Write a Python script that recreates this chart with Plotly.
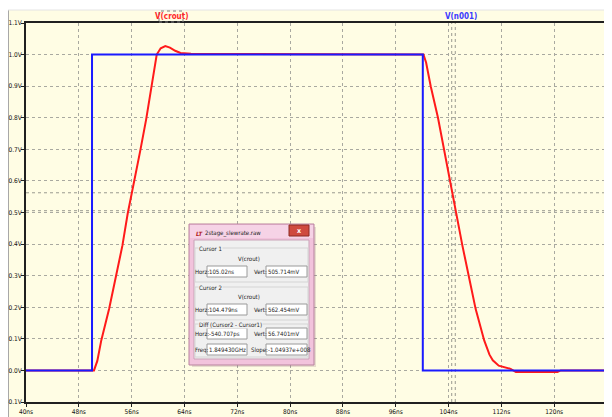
import plotly.graph_objects as go

# ---------------- data ----------------
t_blue = [40, 50.0, 50.0, 100.1, 100.1, 128]
v_blue = [0, 0, 1.0, 1.0, 0, 0]

t_red = [40, 50.3, 50.8, 51.4, 52.6, 53.6, 54.6, 55.4, 56.4, 57.3, 58.2, 59.0,
         59.8, 60.4, 61.1, 61.8, 62.6, 63.4, 65.0, 68.0, 74.0, 76.0, 100.2,
         100.6, 101.3, 102.4, 103.3, 104.2, 104.479, 105.02, 106.1, 107.1,
         108.1, 109.4, 110.2, 110.7, 111.6, 113.4, 114.2, 120.5, 121.0, 128]
v_red = [0, 0, 0.03, 0.095, 0.196, 0.295, 0.395, 0.496, 0.595, 0.695, 0.795, 0.895,
         1.0, 1.02, 1.027, 1.022, 1.012, 1.005, 1.003, 1.002, 1.002, 1.0, 1.0,
         0.975, 0.9, 0.8, 0.7, 0.6, 0.562454, 0.505714, 0.395, 0.295,
         0.195, 0.095, 0.05, 0.032, 0.015, 0.005, -0.005, -0.005, 0.0, 0.0]

x_ticks = [40, 48, 56, 64, 72, 80, 88, 96, 104, 112, 120, 128]
x_labels = ["40ns", "48ns", "56ns", "64ns", "72ns", "80ns", "88ns", "96ns",
            "104ns", "112ns", "120ns", "128ns"]
y_ticks = [-0.1, 0.0, 0.1, 0.2, 0.3, 0.4, 0.5, 0.6, 0.7, 0.8, 0.9, 1.0, 1.1]
y_labels = ["-0.1V", "0.0V", "0.1V", "0.2V", "0.3V", "0.4V", "0.5V", "0.6V",
            "0.7V", "0.8V", "0.9V", "1.0V", "1.1V"]

cursor_t = [104.479, 105.02]
cursor_v = [0.562454, 0.505714]

dlg_title = "2stage_slewrate.raw"
c1_label, c2_label, diff_label = "Cursor 1", "Cursor 2", "Diff (Cursor2 - Cursor1)"
trace_name = "V(crout)"
c1_horz, c1_vert = "105.02ns", "505.714mV"
c2_horz, c2_vert = "104.479ns", "562.454mV"
d_horz, d_vert = "-540.707ps", "56.7401mV"
d_freq, d_slope = "1.849430GHz", "-1.04937e+008"

# ---------------- geometry helpers (window pixel -> paper) ----------------
OX, OY = 8, 8                 # page body margin offset
W, H = 604, 409               # figure size (fills the rest of the window)
L, R, T, B = 18, 5, 15, 15
PW, PH = W - L - R, H - T - B


def px(x):
    return (x - OX - L) / PW


def py(y):
    return (H - B - (y - OY)) / PH


COND = "DejaVu Sans Condensed, Liberation Sans, sans-serif"
BG = "#fffde4"
fig = go.Figure()
fig.add_trace(go.Scatter(x=t_red, y=v_red, mode="lines", name="V(crout)",
                         line=dict(color="#ff1a1a", width=2), hoverinfo="skip"))
fig.add_trace(go.Scatter(x=t_blue, y=v_blue, mode="lines", name="V(n001)",
                         line=dict(color="#1a1aff", width=2), hoverinfo="skip"))

tickfont = dict(family=COND, size=6.5, color="#111111")
axis_common = dict(showgrid=True, gridcolor="#a9a9a0", griddash="dot", gridwidth=1,
                   showline=True, linecolor="#202020", linewidth=2, mirror=True,
                   ticks="outside", ticklen=3, tickcolor="#202020", tickwidth=1,
                   zeroline=False, tickfont=tickfont, fixedrange=True, automargin=False)

fig.update_layout(
    width=W, height=H,
    margin=dict(l=L, r=R, t=T, b=B, pad=0, autoexpand=False),
    paper_bgcolor=BG, plot_bgcolor=BG,
    showlegend=False,
    xaxis=dict(range=[40, 128], tickmode="array", tickvals=x_ticks, ticktext=x_labels,
               ticklabelstandoff=-1, **axis_common),
    yaxis=dict(range=[-0.1, 1.1], tickmode="array", tickvals=y_ticks, ticktext=y_labels,
               ticklabelstandoff=-2, **axis_common),
)

shapes = []
# white band at top of the window
shapes.append(dict(type="rect", xref="paper", yref="paper", x0=px(0), x1=px(W + 20),
                   y0=py(10), y1=py(0), fillcolor="white", line=dict(width=0), layer="below"))
shapes.append(dict(type="line", xref="paper", yref="paper", x0=px(7), x1=px(W + 20),
                   y0=py(10), y1=py(10), line=dict(color="#e4e4e4", width=1)))
shapes.append(dict(type="line", xref="paper", yref="paper", x0=px(8.5), x1=px(8.5),
                   y0=py(10), y1=py(H + 20), line=dict(color="#a8a8a8", width=1),
                   layer="below"))

# cursor lines
for tc in cursor_t:
    shapes.append(dict(type="line", xref="x", yref="paper", x0=tc, x1=tc, y0=0, y1=1,
                       line=dict(color="#9a9a90", width=1, dash="dot"), layer="below"))
for vc in cursor_v:
    shapes.append(dict(type="line", xref="paper", yref="y", x0=0, x1=1, y0=vc, y1=vc,
                       line=dict(color="#9a9a90", width=1, dash="dot"), layer="below"))

# dotted selection box around V(crout) label
shapes.append(dict(type="rect", xref="paper", yref="paper", x0=px(159), x1=px(183),
                   y0=py(22), y1=py(11), line=dict(color="#808080", width=1, dash="dot")))


def rect(x0, y0, x1, y1, fill, line="rgba(0,0,0,0)", lw=1):
    shapes.append(dict(type="rect", xref="paper", yref="paper", x0=px(x0), x1=px(x1),
                       y0=py(y1), y1=py(y0), fillcolor=fill, line=dict(color=line, width=lw)))


# dialog window
rect(192, 227, 316, 367, "rgba(120,80,100,0.18)")          # shadow
rect(189, 224, 314, 365, "#f2c3dc", "#b9829f")               # pink frame
rect(190, 225, 313, 238, "#f6d3e6")                          # title highlight
rect(194, 240, 309, 359, "#f0f0f0", "#c9a3b7")               # client area
rect(289, 225, 309, 236, "#cf4a3f", "#8c2a24")               # close button
# group boxes
rect(195, 248, 308, 282, "rgba(0,0,0,0)", "#d4d4d4")
rect(195, 287, 308, 320, "rgba(0,0,0,0)", "#d4d4d4")
rect(195, 324, 308, 357, "rgba(0,0,0,0)", "#d4d4d4")
# text boxes
for (yy0, yy1) in [(266, 277), (304, 315), (328, 339), (344, 355)]:
    rect(207, yy0, 247, yy1, "white", "#9a9a9a")
    rect(266, yy0, 307, yy1, "white", "#9a9a9a")

fig.update_layout(shapes=shapes)

ann = []
small = dict(family=COND, size=6, color="#222222")


def text(x, y, s, anchor="left", font=None, bg=None):
    d = dict(xref="paper", yref="paper", x=px(x), y=py(y), text=s, showarrow=False,
             xanchor=anchor, yanchor="middle", font=font or small, borderpad=0)
    if bg:
        d["bgcolor"] = bg
    ann.append(d)


lab = dict(family=COND, size=8, weight="bold")
text(171, 16, "V(crout)", "center", dict(lab, color="#ff2a2a"))
text(461, 16, "V(n001)", "center", dict(lab, color="#3a3aff"))

text(195, 233, "<i><b>LT</b></i>", "left", dict(family=COND, size=6, color="#b02020"))
text(204, 233, dlg_title, "left", dict(family=COND, size=6, color="#222"))
text(299, 230.5, "x", "center", dict(family=COND, size=7, color="white", weight="bold"))

text(198, 248, c1_label, bg="#f0f0f0")
text(249, 258, trace_name, "center")
text(194.5, 271.5, "Horz:")
text(208, 271.5, c1_horz)
text(253, 271.5, "Vert:")
text(267, 271.5, c1_vert)

text(198, 287, c2_label, bg="#f0f0f0")
text(249, 296, trace_name, "center")
text(194.5, 309.5, "Horz:")
text(208, 309.5, c2_horz)
text(253, 309.5, "Vert:")
text(267, 309.5, c2_vert)

text(198, 324, diff_label, bg="#f0f0f0")
text(194.5, 333.5, "Horz:")
text(208, 333.5, d_horz)
text(253, 333.5, "Vert:")
text(267, 333.5, d_vert)
text(194.5, 349.5, "Freq:")
text(208, 349.5, d_freq)
text(250, 349.5, "Slope:")
text(267, 349.5, d_slope)

fig.update_layout(annotations=ann)
fig.write_html("out.html", config={"displayModeBar": False})
